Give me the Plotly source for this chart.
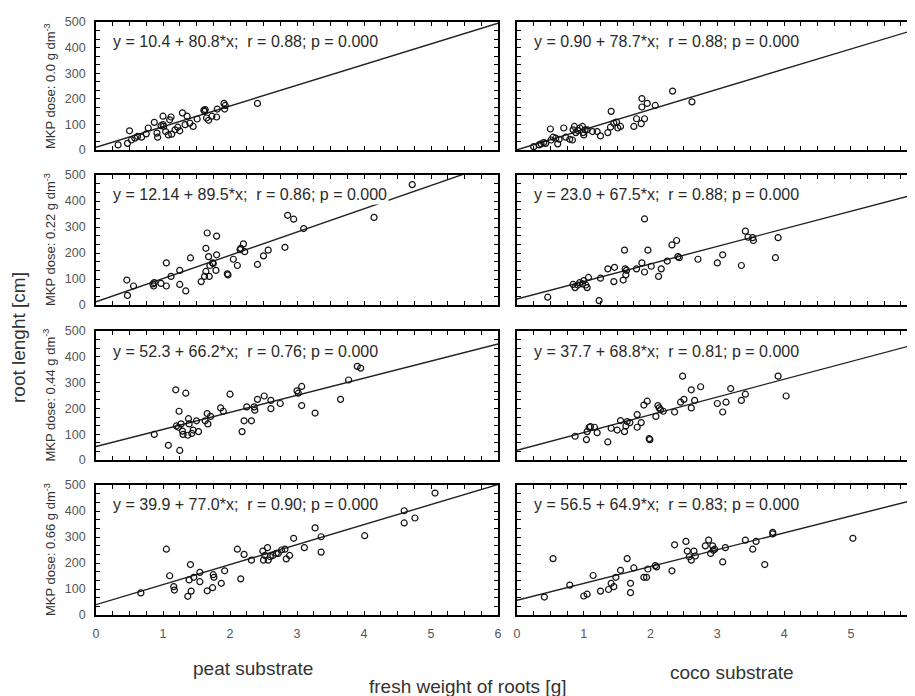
import plotly.graph_objects as go

# The page body keeps the browser's default 8 px margin, so the figure is
# drawn 8 px lower and to the right; all pixel positions below are shifted.
OFF = 8
W, H = 915 - OFF, 696 - OFF

# ---------------- data ----------------
doses = ["0.0", "0.22", "0.44", "0.66"]
substrates = ["peat substrate", "coco substrate"]

# regression coefficients shown in each panel
peat_intercept = [10.4, 12.14, 52.3, 39.9]
peat_slope = [80.8, 89.5, 66.2, 77.0]
peat_r = ["0.88", "0.86", "0.76", "0.90"]
peat_intercept_txt = ["10.4", "12.14", "52.3", "39.9"]
peat_slope_txt = ["80.8", "89.5", "66.2", "77.0"]

coco_intercept = [0.90, 23.0, 37.7, 56.5]
coco_slope = [78.7, 67.5, 68.8, 64.9]
coco_r = ["0.88", "0.88", "0.81", "0.83"]
coco_intercept_txt = ["0.90", "23.0", "37.7", "56.5"]
coco_slope_txt = ["78.7", "67.5", "68.8", "64.9"]

# peat, dose 0.0
peat0_x = [0.33, 0.47, 0.50, 0.53, 0.58, 0.62, 0.68, 0.75, 0.78, 0.87, 0.91, 0.92, 0.97, 1.00,
           1.00, 1.04, 1.08, 1.10, 1.12, 1.13, 1.18, 1.22, 1.25, 1.29, 1.33, 1.36, 1.40, 1.45,
           1.51, 1.62, 1.63, 1.65, 1.68, 1.73, 1.80, 1.81, 1.91, 1.92, 1.93, 2.41, 1.01, 1.61]
peat0_y = [20, 26, 75, 39, 46, 53, 50, 63, 86, 108, 66, 50, 95, 99,
           132, 72, 59, 118, 129, 62, 79, 89, 75, 145, 99, 132, 105, 92,
           121, 151, 158, 125, 116, 132, 129, 160, 182, 160, 174, 182, 92, 155]
# coco, dose 0.0
coco0_x = [0.25, 0.33, 0.36, 0.40, 0.43, 0.50, 0.51, 0.54, 0.58, 0.61, 0.63, 0.70, 0.73, 0.79,
           0.83, 0.84, 0.86, 0.88, 0.91, 0.94, 0.98, 0.99, 1.00, 1.02, 1.05, 1.13, 1.20, 1.25,
           1.36, 1.40, 1.41, 1.45, 1.49, 1.51, 1.55, 1.75, 1.79, 1.86, 1.87, 1.87, 1.91, 1.95,
           2.07, 2.33, 2.62]
coco0_y = [13, 20, 24, 29, 26, 82, 39, 50, 46, 24, 42, 86, 50, 42,
           39, 79, 92, 68, 76, 86, 92, 68, 59, 79, 79, 72, 72, 55,
           68, 89, 151, 105, 109, 86, 92, 92, 122, 103, 201, 168, 122, 182,
           174, 230, 188]
# peat, dose 0.22
peat1_x = [0.46, 0.47, 0.56, 0.85, 0.86, 0.87, 0.97, 1.05, 1.05, 1.12, 1.25, 1.25, 1.34, 1.41,
           1.57, 1.62, 1.64, 1.64, 1.66, 1.68, 1.69, 1.70, 1.74, 1.75, 1.79, 1.80, 1.80, 1.96,
           1.97, 2.05, 2.11, 2.15, 2.16, 2.20, 2.22, 2.41, 2.50, 2.57, 2.82, 2.86, 2.95, 3.10,
           4.15, 4.72]
peat1_y = [96, 37, 73, 81, 73, 86, 83, 162, 73, 110, 133, 79, 54, 181,
           90, 110, 218, 129, 277, 186, 110, 152, 162, 160, 133, 265, 193, 120,
           116, 176, 152, 213, 218, 235, 205, 156, 189, 211, 222, 345, 330, 294,
           337, 463]
# coco, dose 0.22
coco1_x = [0.46, 0.84, 0.87, 0.91, 0.94, 0.98, 1.00, 1.03, 1.05, 1.07, 1.23, 1.25, 1.36, 1.45,
           1.46, 1.59, 1.61, 1.62, 1.63, 1.64, 1.79, 1.87, 1.91, 1.91, 1.96, 2.01, 2.12, 2.16,
           2.25, 2.32, 2.39, 2.41, 2.43, 2.71, 3.00, 3.08, 3.36, 3.42, 3.46, 3.53, 3.54, 3.87,
           3.91]
coco1_y = [30, 79, 67, 77, 86, 81, 94, 77, 67, 106, 17, 103, 139, 90,
           145, 96, 211, 139, 116, 133, 139, 162, 331, 127, 211, 149, 110, 139,
           169, 231, 248, 186, 182, 176, 162, 193, 152, 284, 261, 259, 248, 182,
           259]
# peat, dose 0.44
peat2_x = [0.87, 1.08, 1.19, 1.20, 1.23, 1.24, 1.25, 1.27, 1.29, 1.30, 1.34, 1.37, 1.38, 1.39,
           1.43, 1.45, 1.50, 1.53, 1.63, 1.66, 1.67, 1.71, 1.86, 1.90, 2.00, 2.18, 2.21, 2.25,
           2.32, 2.36, 2.37, 2.41, 2.51, 2.61, 2.61, 2.75, 3.00, 3.02, 3.07, 3.07, 3.27, 3.65,
           3.77, 3.90, 3.95]
peat2_y = [99, 57, 272, 132, 127, 189, 37, 140, 112, 99, 259, 96, 160, 140,
           103, 116, 152, 110, 152, 180, 140, 169, 202, 189, 255, 110, 152, 206,
           152, 206, 193, 235, 248, 231, 199, 219, 268, 259, 285, 211, 182, 235,
           310, 363, 356]
# coco, dose 0.44
coco2_x = [0.87, 1.04, 1.05, 1.08, 1.10, 1.16, 1.20, 1.36, 1.41, 1.50, 1.55, 1.61, 1.63, 1.65,
           1.69, 1.80, 1.80, 1.86, 1.90, 1.95, 1.98, 1.99, 2.08, 2.11, 2.13, 2.15, 2.19, 2.36,
           2.45, 2.48, 2.50, 2.61, 2.61, 2.66, 2.75, 3.00, 3.08, 3.13, 3.20, 3.36, 3.42, 3.91,
           4.03]
coco2_y = [92, 79, 110, 127, 129, 127, 106, 70, 123, 116, 153, 110, 132, 149,
           145, 127, 176, 145, 213, 228, 83, 79, 169, 211, 202, 195, 189, 186,
           224, 325, 235, 272, 202, 231, 284, 219, 186, 224, 277, 231, 255, 325,
           248]
# peat, dose 0.66
peat3_x = [0.67, 1.05, 1.10, 1.16, 1.17, 1.37, 1.39, 1.41, 1.42, 1.46, 1.55, 1.55, 1.66, 1.74,
           1.75, 1.76, 1.87, 1.92, 2.11, 2.16, 2.21, 2.32, 2.49, 2.50, 2.52, 2.56, 2.57, 2.60,
           2.64, 2.69, 2.72, 2.77, 2.82, 2.84, 2.89, 2.95, 3.11, 3.27, 3.36, 3.36, 4.01, 4.60,
           4.60, 4.76, 5.06]
peat3_y = [85, 253, 151, 109, 96, 72, 135, 194, 92, 145, 164, 128, 93, 105,
           155, 145, 122, 170, 253, 139, 233, 211, 246, 211, 229, 259, 211, 224,
           229, 237, 237, 250, 253, 216, 229, 295, 259, 335, 301, 242, 305, 401,
           354, 373, 469]
# coco, dose 0.66
coco3_x = [0.41, 0.54, 0.79, 1.00, 1.05, 1.14, 1.25, 1.37, 1.41, 1.45, 1.48, 1.55, 1.65, 1.70,
           1.70, 1.75, 1.90, 1.94, 1.96, 2.07, 2.09, 2.32, 2.36, 2.53, 2.55, 2.58, 2.61, 2.65,
           2.67, 2.82, 2.87, 2.90, 2.93, 2.94, 2.96, 3.08, 3.12, 3.42, 3.53, 3.58, 3.71, 3.83,
           3.83, 5.03]
coco3_y = [69, 217, 115, 73, 80, 152, 92, 98, 122, 109, 145, 172, 217, 122,
           86, 181, 145, 145, 177, 190, 185, 170, 270, 283, 246, 224, 211, 246,
           227, 266, 288, 237, 266, 249, 253, 204, 259, 288, 253, 283, 194, 318,
           312, 295]

peat_x = [peat0_x, peat1_x, peat2_x, peat3_x]
peat_y = [peat0_y, peat1_y, peat2_y, peat3_y]
coco_x = [coco0_x, coco1_x, coco2_x, coco3_x]
coco_y = [coco0_y, coco1_y, coco2_y, coco3_y]

x_ticks = [0, 1, 2, 3, 4, 5, 6]
y_ticks = [0, 100, 200, 300, 400, 500]

# ---------------- layout geometry (screen pixels) ----------------
col_left = [96, 517]
col_right = [498, 915]
col_range = [[0, 6], [0, 5.96]]
row_top = [22, 175, 331, 485]
row_bot = [150, 305, 460, 615]


def px(x):
    return (x - OFF) / W


def py(y):
    return 1 - (y - OFF) / H


FONT = "Arial, Liberation Sans, sans-serif"
fig = go.Figure()
layout = dict(
    width=W, height=H, margin=dict(l=0, r=0, t=0, b=0, pad=0, autoexpand=False),
    paper_bgcolor="white", plot_bgcolor="white", showlegend=False,
    font=dict(family=FONT, color="#333333"),
)
annotations = []

for r in range(4):
    for c in range(2):
        n = r * 2 + c + 1
        xs = peat_x[r] if c == 0 else coco_x[r]
        ys = peat_y[r] if c == 0 else coco_y[r]
        a = peat_intercept[r] if c == 0 else coco_intercept[r]
        b = peat_slope[r] if c == 0 else coco_slope[r]
        xa = "x" if n == 1 else f"x{n}"
        ya = "y" if n == 1 else f"y{n}"
        fig.add_trace(go.Scatter(
            x=[0, 6], y=[a, a + 6 * b], mode="lines", xaxis=xa, yaxis=ya,
            line=dict(color="#222222", width=1.4), hoverinfo="skip"))
        fig.add_trace(go.Scatter(
            x=xs, y=ys, mode="markers", xaxis=xa, yaxis=ya,
            marker=dict(symbol="circle-open", size=6, color="#111111",
                        line=dict(width=1.2, color="#111111"))))
        common = dict(
            showline=True, linecolor="black", linewidth=1.6, mirror="allticks",
            ticks="inside", ticklen=4, tickwidth=1, tickcolor="black",
            showgrid=False, zeroline=False, automargin=False,
            tickfont=dict(family=FONT, size=12.5, color="#555555"),
        )
        layout[f"xaxis{n}" if n > 1 else "xaxis"] = dict(
            common, domain=[px(col_left[c]), px(col_right[c])], range=col_range[c],
            anchor=ya, tickvals=x_ticks, showticklabels=(r == 3), ticklabelstandoff=6,
            minor=dict(dtick=0.25, tick0=0, ticks="inside", ticklen=4, tickcolor="black",
                       showgrid=False),
        )
        layout[f"yaxis{n}" if n > 1 else "yaxis"] = dict(
            common, domain=[py(row_bot[r]), py(row_top[r])], range=[0, 500],
            anchor=xa, tickvals=y_ticks, showticklabels=(c == 0), ticklabelstandoff=6,
            minor=dict(dtick=100 / 3, tick0=0, ticks="inside", ticklen=4, tickcolor="black",
                       showgrid=False),
        )
        if c == 0:
            eq = (f"y = {peat_intercept_txt[r]} + {peat_slope_txt[r]}*x;\u00a0\u00a0"
                  f"r = {peat_r[r]}; p = 0.000")
        else:
            eq = (f"y = {coco_intercept_txt[r]} + {coco_slope_txt[r]}*x;\u00a0\u00a0"
                  f"r = {coco_r[r]}; p = 0.000")
        annotations.append(dict(
            text=eq, xref="paper", yref="paper",
            x=px(col_left[c] + 15), y=py(row_top[r] + 20),
            xanchor="left", yanchor="middle", showarrow=False,
            bgcolor="white", borderpad=1,
            font=dict(family=FONT, size=16, color="#2a2a2a")))
    annotations.append(dict(
        text=f"MKP dose: {doses[r]} g dm<sup>-3</sup>", xref="paper", yref="paper",
        x=px(50), y=py((row_top[r] + row_bot[r]) / 2), textangle=-90,
        xanchor="center", yanchor="middle", showarrow=False,
        font=dict(family=FONT, size=13, color="#333333")))

annotations += [
    dict(text="root lenght [cm]", xref="paper", yref="paper", x=px(18), y=py(338),
         textangle=-90, showarrow=False, xanchor="center", yanchor="middle",
         font=dict(family=FONT, size=19, color="#333333")),
    dict(text=substrates[0], xref="paper", yref="paper", x=px(253), y=py(668),
         showarrow=False, xanchor="center", yanchor="middle",
         font=dict(family=FONT, size=19, color="#333333")),
    dict(text=substrates[1], xref="paper", yref="paper", x=px(732), y=py(672),
         showarrow=False, xanchor="center", yanchor="middle",
         font=dict(family=FONT, size=19, color="#333333")),
    dict(text="fresh weight of roots [g]", xref="paper", yref="paper", x=px(468),
         y=py(686), showarrow=False, xanchor="center", yanchor="middle",
         font=dict(family=FONT, size=19, color="#333333")),
]
layout["annotations"] = annotations
fig.update_layout(**layout)
fig.write_html("out.html")
